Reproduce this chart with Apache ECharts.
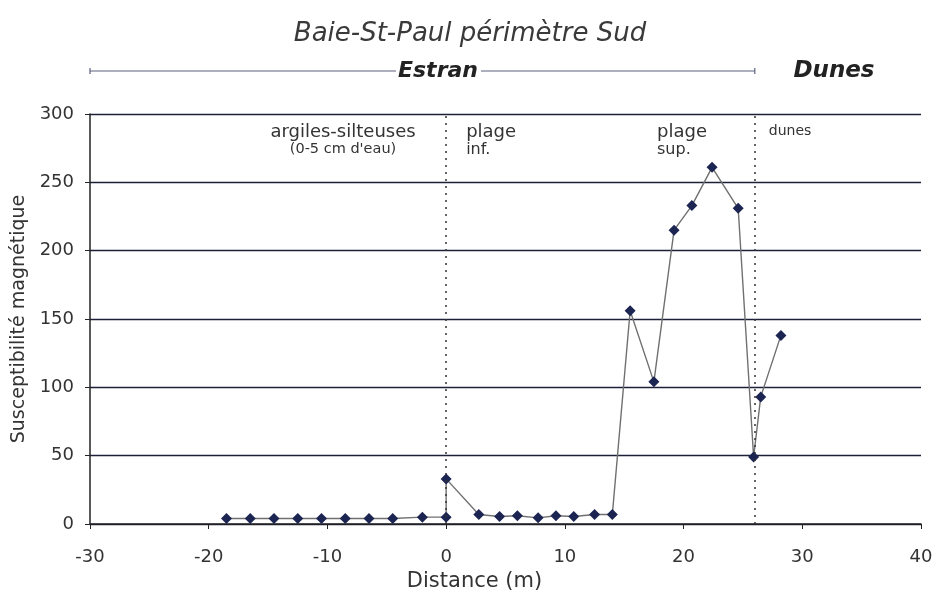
<!DOCTYPE html>
<html>
<head>
<meta charset="utf-8">
<script src="https://cdn.jsdelivr.net/npm/echarts@6/dist/echarts.min.js"></script>
<style>
  html, body { margin: 0; padding: 0; background: #fff; }
  #chart { width: 940px; height: 614px; }
</style>
</head>
<body>
<div id="chart"></div>
<script>
// Magnetic susceptibility profile along the southern transect
const distances = [-18.5, -16.5, -14.5, -12.5, -10.5, -8.5, -6.5, -4.5, -2, 0, 0,
                   2.75, 4.5, 6, 7.75, 9.25, 10.75, 12.5, 14,
                   15.5, 17.5, 19.2, 20.7, 22.4, 24.6, 25.9, 26.5, 28.2];
const susceptibility = [4, 4, 4, 4, 4, 4, 4, 4, 5, 5, 33,
                        7, 5.5, 6, 4.5, 6, 5.5, 7, 7,
                        156, 104, 215, 233, 261, 231, 49, 93, 138];
// Zone boundaries (m) and the extent of the tidal-flat header band
const boundaries = [0, 26];
const estranRange = [-30, 26];

const FONT = '"DejaVu Sans", "Noto Sans", sans-serif';
const INK = '#333';

const chart = echarts.init(document.getElementById('chart'), null, { renderer: 'canvas' });

const points = distances.map((d, i) => [d, susceptibility[i]]);

chart.setOption({
  animation: false,
  backgroundColor: '#fff',
  title: {
    text: 'Baie-St-Paul périmètre Sud',
    left: 'center',
    top: 16,
    textStyle: { fontFamily: FONT, fontSize: 26, fontStyle: 'italic', fontWeight: 'normal', color: '#3a3a3a' }
  },
  grid: { left: 90, right: 19, top: 114, bottom: 90 },
  xAxis: {
    type: 'value',
    min: -30, max: 40, interval: 10,
    name: 'Distance (m)',
    nameLocation: 'middle',
    nameGap: 40,
    nameTextStyle: { fontFamily: FONT, fontSize: 21, color: INK, padding: [0, 62, 0, 0] },
    axisLine: { show: true, onZero: false, lineStyle: { color: '#222', width: 1.5 } },
    axisTick: { show: true, length: 5, lineStyle: { color: '#222' } },
    axisLabel: { fontFamily: FONT, fontSize: 18, color: INK, margin: 24 },
    splitLine: { show: false }
  },
  yAxis: {
    type: 'value',
    min: 0, max: 300, interval: 50,
    name: 'Susceptibilité magnétique',
    nameLocation: 'middle',
    nameGap: 58,
    nameTextStyle: { fontFamily: FONT, fontSize: 19, color: INK },
    axisLine: { show: true, onZero: false, lineStyle: { color: '#222', width: 1.5 } },
    axisTick: { show: true, length: 5, lineStyle: { color: '#222' } },
    axisLabel: { fontFamily: FONT, fontSize: 18, color: INK, margin: 16 },
    splitLine: { show: true, lineStyle: { color: '#1e1f3a', width: 1.3 } }
  },
  series: [{
    type: 'line',
    data: points,
    symbol: 'diamond',
    symbolSize: 11,
    showAllSymbol: true,
    lineStyle: { color: '#707070', width: 1.4 },
    itemStyle: { color: '#1c2452' },
    markLine: {
      silent: true,
      symbol: ['none', 'none'],
      label: { show: false },
      lineStyle: { type: [2, 5], color: '#333', width: 1.5 },
      data: boundaries.map(b => [{ coord: [b, 0] }, { coord: [b, 300] }])
    },
    z: 3
  }]
});

// Header band and zone annotations placed in data space
function place() {
  const px = v => chart.convertToPixel({ gridIndex: 0 }, v);
  const [xa] = px([estranRange[0], 0]);
  const [xb] = px([estranRange[1], 0]);
  const [x0, yTop] = px([boundaries[0], 300]);
  const [x1] = px([boundaries[1], 300]);
  const bandY = 71;
  const lineStyle = { stroke: '#5c6180', lineWidth: 1.2 };
  const txt = (x, y, text, size, extra) => ({
    type: 'text', x, y,
    style: Object.assign({ text, fontFamily: FONT, fontSize: size, fill: INK,
      align: 'left', verticalAlign: 'middle' }, extra || {})
  });
  chart.setOption({
    graphic: [
      { type: 'line', shape: { x1: xa, y1: bandY, x2: 396, y2: bandY }, style: lineStyle },
      { type: 'line', shape: { x1: 481, y1: bandY, x2: xb, y2: bandY }, style: lineStyle },
      { type: 'line', shape: { x1: xa, y1: bandY - 3, x2: xa, y2: bandY + 3 }, style: lineStyle },
      { type: 'line', shape: { x1: xb, y1: bandY - 3, x2: xb, y2: bandY + 3 }, style: lineStyle },
      txt(438, bandY, 'Estran', 22, { align: 'center', fontWeight: 'bold', fontStyle: 'italic', fill: '#222' }),
      txt(834, bandY, 'Dunes', 23, { align: 'center', fontWeight: 'bold', fontStyle: 'italic', fill: '#222' }),
      txt(343, yTop + 18, 'argiles-silteuses', 18, { align: 'center' }),
      txt(343, yTop + 35, "(0-5 cm d'eau)", 14.5, { align: 'center' }),
      txt(x0 + 20, yTop + 18, 'plage', 18),
      txt(x0 + 20, yTop + 36, 'inf.', 16),
      txt(657, yTop + 18, 'plage', 18),
      txt(657, yTop + 36, 'sup.', 16),
      txt(x1 + 14, yTop + 17, 'dunes', 14)
    ]
  });
}
place();
</script>
</body>
</html>
